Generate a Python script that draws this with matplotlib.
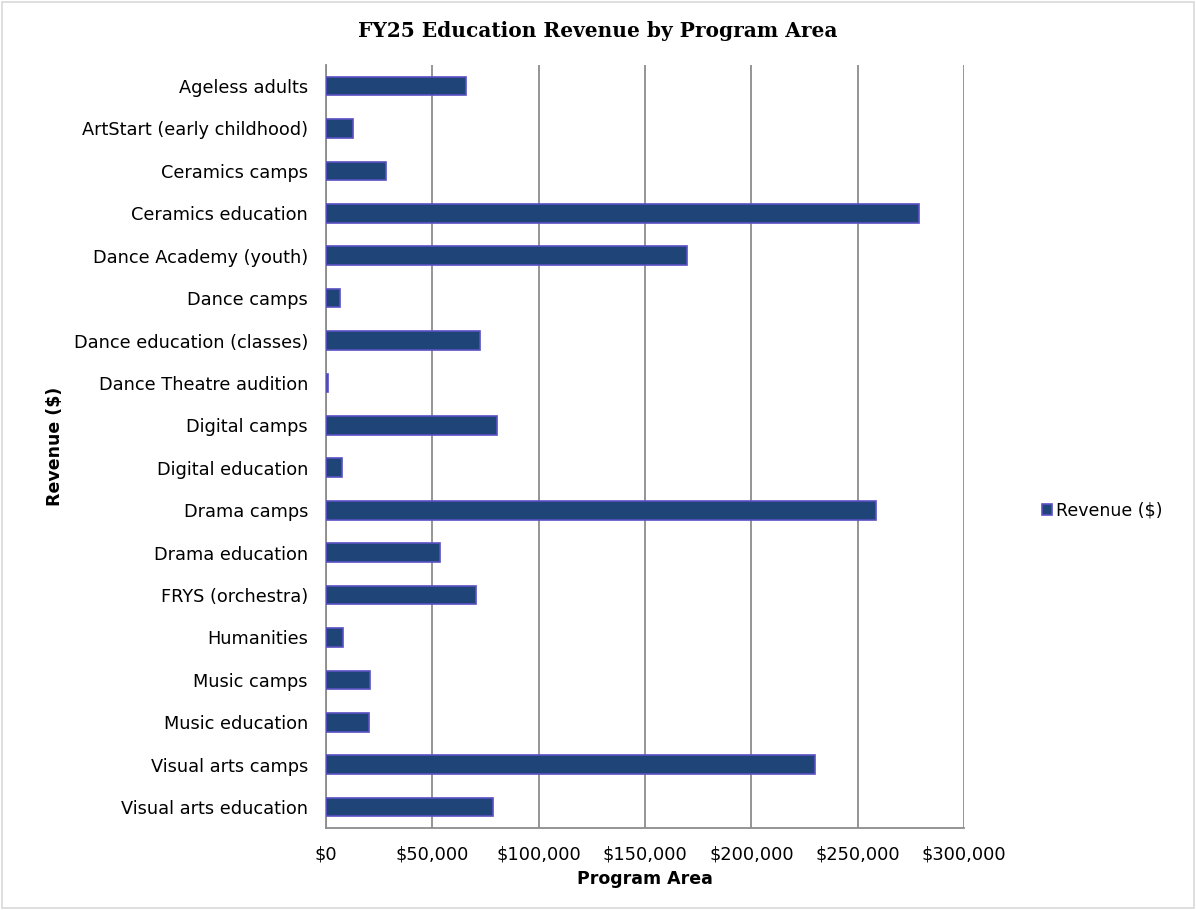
import matplotlib.pyplot as plt
import matplotlib.patches as patches
from matplotlib.ticker import FuncFormatter

programs = [
    "Ageless adults",
    "ArtStart (early childhood)",
    "Ceramics camps",
    "Ceramics education",
    "Dance Academy (youth)",
    "Dance camps",
    "Dance education (classes)",
    "Dance Theatre audition",
    "Digital camps",
    "Digital education",
    "Drama camps",
    "Drama education",
    "FRYS (orchestra)",
    "Humanities",
    "Music camps",
    "Music education",
    "Visual arts camps",
    "Visual arts education",
]
revenue = [65600, 12700, 28000, 279000, 169600, 6600, 72500, 800, 80300,
           7400, 258800, 53600, 70400, 7900, 20600, 20100, 229900, 78300]

x_ticks = [0, 50000, 100000, 150000, 200000, 250000, 300000]

fig = plt.figure(figsize=(11.96, 9.10), dpi=100)
ax = fig.add_axes([0.2726, 0.0897, 0.5334, 0.8391])

pos = list(range(len(programs)))
ax.barh(pos, revenue, height=0.44, color="#1f4578", edgecolor="#5a4fc4",
        linewidth=1.2, label="Revenue ($)", zorder=3)
ax.set_ylim(len(programs) - 0.5, -0.5)
ax.set_yticks(pos)
ax.set_yticklabels(programs, fontsize=12.8)

ax.set_xlim(0, 300000)
ax.set_xticks(x_ticks)
ax.xaxis.set_major_formatter(FuncFormatter(lambda v, p: f"${v:,.0f}"))
ax.tick_params(axis="x", labelsize=12.8, length=0, pad=12)
ax.tick_params(axis="y", length=0, pad=13)
ax.grid(axis="x", color="#8c8c8c", linewidth=1.3, zorder=0)

for s in ["top", "right"]:
    ax.spines[s].set_visible(False)
for s in ["left", "bottom"]:
    ax.spines[s].set_color("#8c8c8c")
    ax.spines[s].set_linewidth(1.3)

ax.set_xlabel("Program Area", fontsize=12.5, fontweight="bold", labelpad=5)
ax.set_ylabel("Revenue ($)", fontsize=12.5, fontweight="bold")
ax.yaxis.set_label_coords(-0.41, 0.5)

fig.text(0.5, 0.966, "FY25 Education Revenue by Program Area", ha="center",
         va="center", fontsize=14.5, fontweight="bold", family="DejaVu Serif")

fig.legend(loc="center left", bbox_to_anchor=(0.858, 0.439), frameon=False,
           fontsize=12.5, handlelength=0.6, handleheight=0.6, handletextpad=0.2)

fig.patches.append(patches.Rectangle((0.002, 0.002), 0.996, 0.996, transform=fig.transFigure,
                                     fill=False, edgecolor="#d9d9d9", linewidth=1.2))

plt.savefig("out.png", dpi=100)
